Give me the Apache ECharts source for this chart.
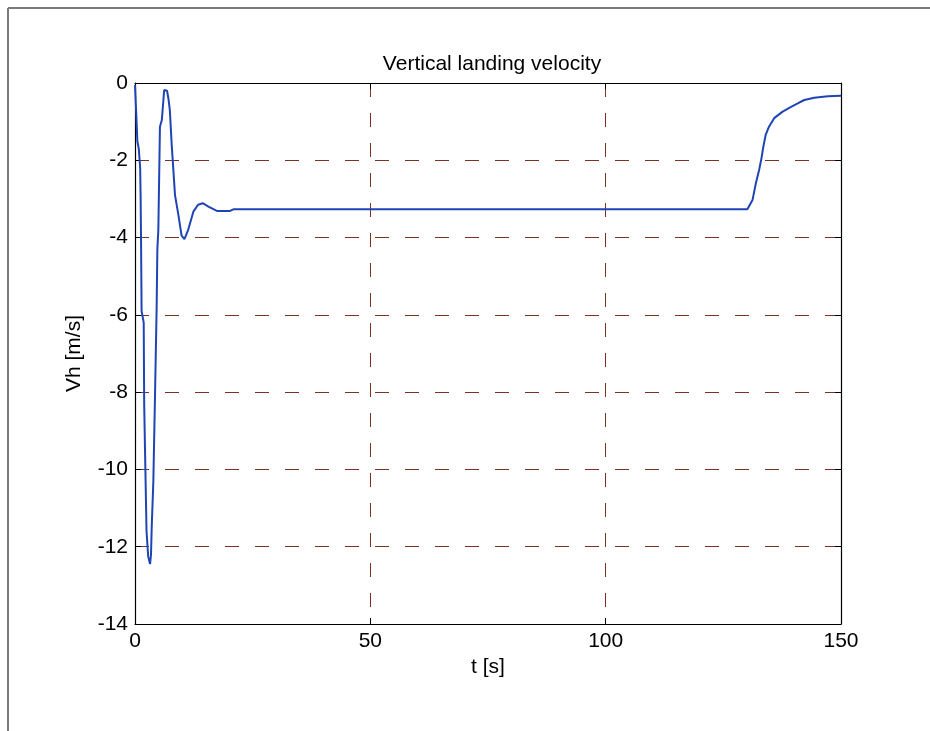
<!DOCTYPE html>
<html>
<head>
<meta charset="utf-8">
<script src="https://cdn.jsdelivr.net/npm/echarts@6/dist/echarts.min.js"></script>
<style>html,body{margin:0;padding:0;background:#fff;}#c{width:930px;height:731px;}</style>
</head>
<body>
<div id="c"></div>
<script>
const titleText = 'Vertical landing velocity';
const xName = 't [s]';
const yName = 'Vh [m/s]';
const xTicks = [0, 50, 100, 150];
const yTicks = [-14, -12, -10, -8, -6, -4, -2, 0];
const timeS = [0, 0.3, 0.5, 0.8, 1.1, 1.2, 1.3, 1.4, 1.85, 1.95, 2.25, 2.45, 2.8, 3.2, 3.4, 3.55, 3.9, 4.25, 4.6, 4.75, 4.96, 5.3, 5.7, 6.2, 6.5, 6.8, 7.1, 7.4, 7.8, 8.5, 9.2, 9.9, 10.5, 11.3, 12.4, 13.4, 14.4, 15.6, 17.4, 20.2, 20.9, 60, 100, 130.1, 131.2, 131.9, 132.6, 133.1, 133.5, 134.0, 134.7, 135.8, 137.6, 139.2, 140.8, 142.2, 144.3, 147.2, 150];
const velocity = [-0.05, -0.9, -1.5, -1.7, -2.2, -3.0, -4.3, -5.9, -6.2, -8.3, -10.3, -11.6, -12.25, -12.45, -12.2, -11.5, -10.3, -8.1, -5.8, -4.3, -3.8, -1.13, -0.96, -0.18, -0.15, -0.2, -0.4, -0.7, -1.6, -2.9, -3.4, -3.95, -4.04, -3.8, -3.33, -3.15, -3.11, -3.2, -3.31, -3.31, -3.27, -3.27, -3.27, -3.27, -3.03, -2.6, -2.25, -1.95, -1.65, -1.34, -1.13, -0.91, -0.74, -0.63, -0.53, -0.44, -0.38, -0.34, -0.33];

const font = '"Liberation Sans", Arial, Helvetica, sans-serif';
const gridColor = '#7a3426';
const chart = echarts.init(document.getElementById('c'));
const data = timeS.map((t, i) => [t, velocity[i]]);
const xMin = xTicks[0], xMax = xTicks[xTicks.length - 1];
const yMin = yTicks[0], yMax = yTicks[yTicks.length - 1];
const baseX = {
  type: 'value', min: xMin, max: xMax, interval: 50,
  axisLine: {show: true, onZero: false, lineStyle: {color: '#000', width: 1.2}},
  axisTick: {show: true, inside: true, length: 6, lineStyle: {color: '#000'}},
};
const baseY = {
  type: 'value', min: yMin, max: yMax, interval: 2,
  axisLine: {show: true, onZero: false, lineStyle: {color: '#000', width: 1.2}},
  axisTick: {show: true, inside: true, length: 6, lineStyle: {color: '#000'}},
};
chart.setOption({
  animation: false,
  backgroundColor: '#fff',
  title: {
    text: titleText, left: 487, top: 49, textAlign: 'center',
    textStyle: {fontFamily: font, fontSize: 21, fontWeight: 'normal', color: '#000'}
  },
  grid: {left: 135, right: 89, top: 83, bottom: 107, containLabel: false},
  xAxis: [
    Object.assign({}, baseX, {
      position: 'bottom',
      name: xName, nameLocation: 'middle', nameGap: 30,
      nameTextStyle: {fontFamily: font, fontSize: 21, color: '#000'},
      axisLabel: {fontFamily: font, fontSize: 21, color: '#000', margin: 7},
      splitLine: {show: true, lineStyle: {color: gridColor, type: [14, 16], width: 1}}
    }),
    Object.assign({}, baseX, {
      position: 'top', axisLabel: {show: false}, splitLine: {show: false}
    })
  ],
  yAxis: [
    Object.assign({}, baseY, {
      position: 'left',
      name: yName, nameLocation: 'middle', nameGap: 50, nameRotate: 90,
      nameTextStyle: {fontFamily: font, fontSize: 21, color: '#000'},
      axisLabel: {fontFamily: font, fontSize: 21, color: '#000', margin: 7},
      splitLine: {show: true, lineStyle: {color: gridColor, type: [14, 16], width: 1}}
    }),
    Object.assign({}, baseY, {
      position: 'right', axisLabel: {show: false}, splitLine: {show: false}
    })
  ],
  series: [{
    type: 'line', data: data, showSymbol: false, symbol: 'none', smooth: false,
    xAxisIndex: 0, yAxisIndex: 0,
    lineStyle: {color: '#1f45b5', width: 2}
  }],
  graphic: [
    {type: 'line', shape: {x1: 8, y1: 8, x2: 8, y2: 731}, style: {stroke: '#7a7a7a', lineWidth: 2}},
    {type: 'line', shape: {x1: 8, y1: 8, x2: 930, y2: 8}, style: {stroke: '#7a7a7a', lineWidth: 2}}
  ]
});
</script>
</body>
</html>
